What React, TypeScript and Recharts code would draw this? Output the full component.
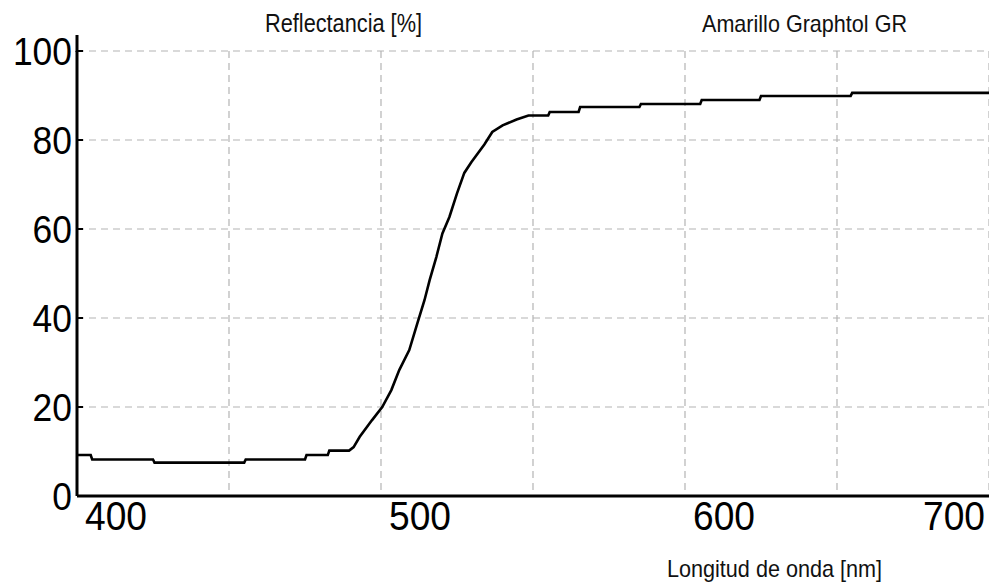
import React from 'react';
import { LineChart, Line, XAxis, YAxis, CartesianGrid } from 'recharts';

// wavelength [nm] and reflectance [%]
const wavelength = [
  400, 404.5, 405, 425, 425.5, 455, 455.5, 475, 475.5, 482.5, 483, 489.5,
  491, 493, 497, 500.4, 503.4, 506, 509.3, 512, 514.3, 516, 518.2, 520.2,
  522.5, 525, 527.4, 529.7, 534, 536.6, 540, 544.6, 548.5, 555, 555.5, 565,
  565.5, 585, 585.5, 605, 605.5, 624.5, 625, 654.5, 655, 700,
];
const reflectance = [
  9.2, 9.2, 8.2, 8.2, 7.5, 7.5, 8.2, 8.2, 9.2, 9.2, 10.2, 10.2,
  11, 13.3, 17, 20, 23.8, 28.3, 32.8, 38.9, 44, 48.5, 53.7, 59,
  62.7, 68, 72.6, 75, 79, 81.8, 83.3, 84.6, 85.5, 85.5, 86.3, 86.3,
  87.4, 87.4, 88.1, 88.1, 89, 89, 89.9, 89.9, 90.6, 90.6,
];

const xTicks = [400, 450, 500, 550, 600, 650, 700];
const xLabels = [400, 500, 600, 700];
const yTicks = [0, 20, 40, 60, 80, 100];

const data = wavelength.map((w, i) => ({ w, r: reflectance[i] }));

const FONT = '"Liberation Sans", Arial, sans-serif';

const XTick = (props: any) => {
  const { x, y, payload } = props;
  const v = payload.value;
  if (!xLabels.includes(v)) return null;
  const last = v === xLabels[xLabels.length - 1];
  return (
    <text
      x={last ? x - 4 : x + 8}
      y={y + 34}
      textAnchor={last ? 'end' : 'start'}
      fontFamily={FONT}
      fontSize={40}
      textLength={62}
      lengthAdjust="spacingAndGlyphs"
      fill="#000"
    >
      {v}
    </text>
  );
};

const YTick = (props: any) => {
  const { x, y, payload } = props;
  const label = String(payload.value);
  return (
    <g>
      <text
        x={x - 5}
        y={y + 14}
        textAnchor="end"
        fontFamily={FONT}
        fontSize={38}
        textLength={label.length * 19.7}
        lengthAdjust="spacingAndGlyphs"
        fill="#000"
      >
        {label}
      </text>
      <line x1={x} x2={x + 6} y1={y} y2={y} stroke="#000" strokeWidth={2} />
    </g>
  );
};

export default function App() {
  return (
    <div style={{ position: 'absolute', left: 0, top: 0, width: 989, height: 585, background: '#fff' }}>
      <LineChart
        width={989}
        height={585}
        data={data}
        margin={{ top: 51, right: 0, bottom: 0, left: 0 }}
      >
        <CartesianGrid stroke="#b4b4b4" strokeDasharray="7 5" strokeWidth={1.2} />
        <XAxis
          dataKey="w"
          type="number"
          domain={[400, 700]}
          ticks={xTicks}
          interval={0}
          allowDataOverflow
          height={89}
          tickSize={0}
          tickMargin={0}
          tick={<XTick />}
          axisLine={{ stroke: '#000', strokeWidth: 3 }}
        />
        <YAxis
          type="number"
          domain={[0, 100]}
          ticks={yTicks}
          interval={0}
          width={77}
          tickSize={0}
          tickMargin={0}
          tick={<YTick />}
          axisLine={{ stroke: '#000', strokeWidth: 3 }}
        />
        <Line
          type="linear"
          dataKey="r"
          stroke="#000"
          strokeWidth={2.6}
          dot={false}
          isAnimationActive={false}
        />
      </LineChart>
      <svg
        width={989}
        height={585}
        style={{ position: 'absolute', left: 0, top: 0, pointerEvents: 'none' }}
      >
        <line x1={77} x2={77} y1={35} y2={52} stroke="#000" strokeWidth={3} />
        <text x={265} y={32} fontFamily={FONT} fontSize={25} textLength={157} lengthAdjust="spacingAndGlyphs" fill="#111">
          Reflectancia [%]
        </text>
        <text x={702} y={32} fontFamily={FONT} fontSize={24} textLength={205} lengthAdjust="spacingAndGlyphs" fill="#111">
          Amarillo Graphtol GR
        </text>
        <text x={667} y={577} fontFamily={FONT} fontSize={24} textLength={215} lengthAdjust="spacingAndGlyphs" fill="#111">
          Longitud de onda [nm]
        </text>
      </svg>
    </div>
  );
}
